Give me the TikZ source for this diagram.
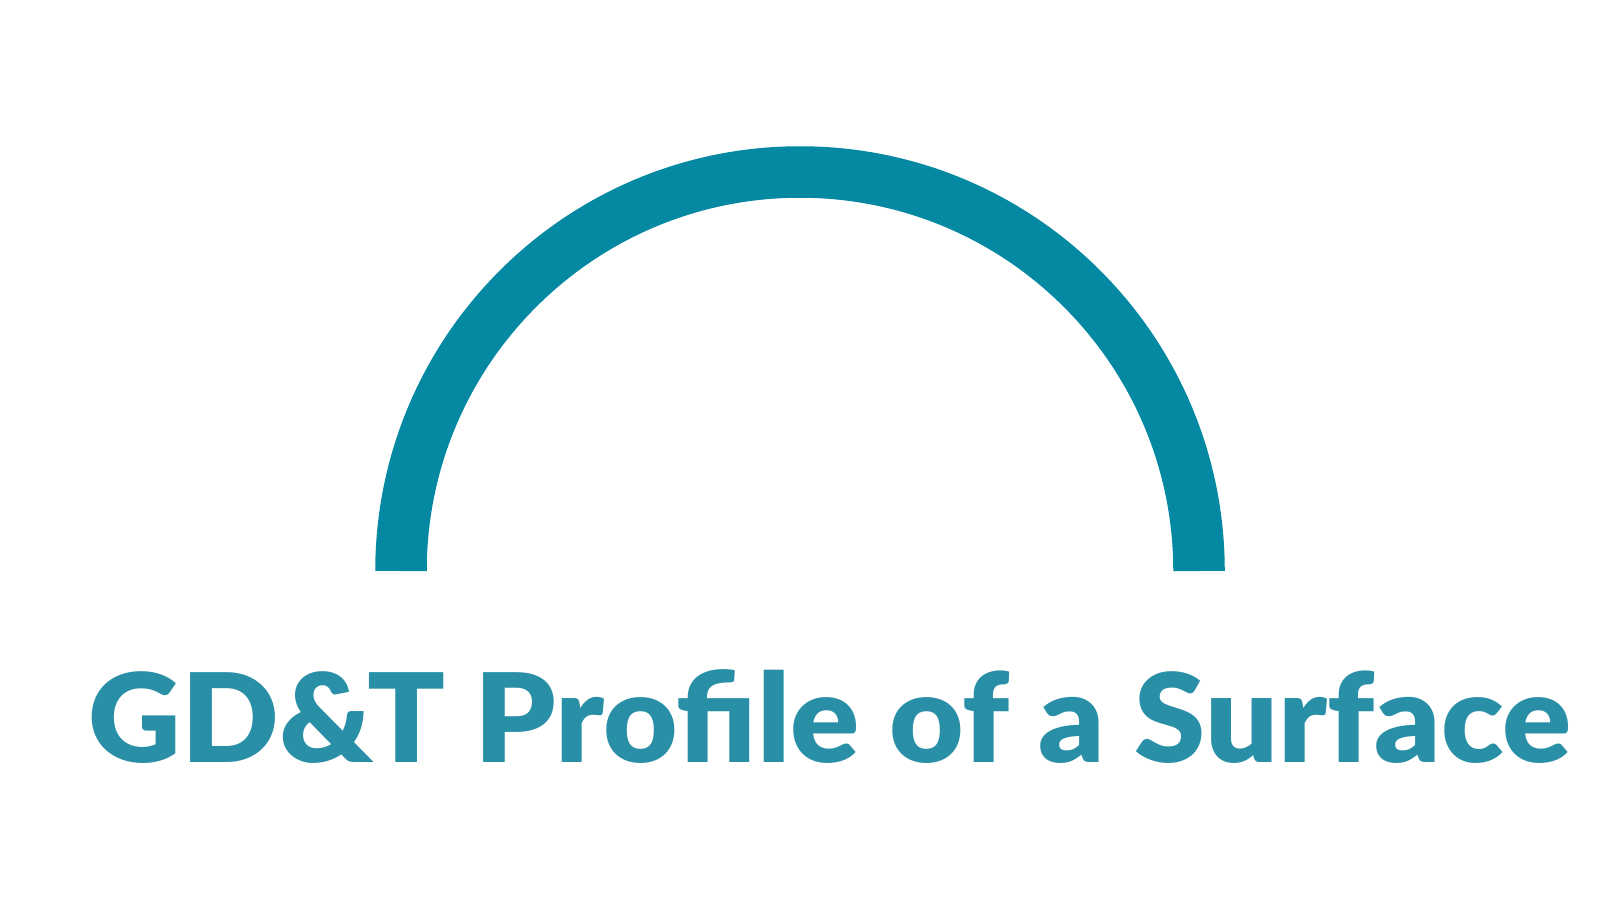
\documentclass[tikz,border=0pt]{standalone}
\usepackage{fontspec}
\setmainfont{Lato}[UprightFont=* Black]
\definecolor{arcblue}{RGB}{5,137,163}
\definecolor{titleblue}{RGB}{41,143,166}
\begin{document}
\begin{tikzpicture}[line join=miter, line cap=butt]
	\useasboundingbox (0,0) rectangle (16,9);
	\path 
	(8.00,3.29) coordinate (O)
	(O)+(3.99,0) coordinate (R)
	(8.30,1.38) coordinate (T)
		;
	\draw[arcblue, line width=0.515cm] (R) arc (0:180:3.99cm);
	\node[anchor=base, inner sep=0, text=titleblue, font=\fontsize{35.1}{38}\selectfont] (title) at (T) {\resizebox{14.82cm}{\height}{GD\&T Profile of a Surface}};
\end{tikzpicture}
\end{document}
